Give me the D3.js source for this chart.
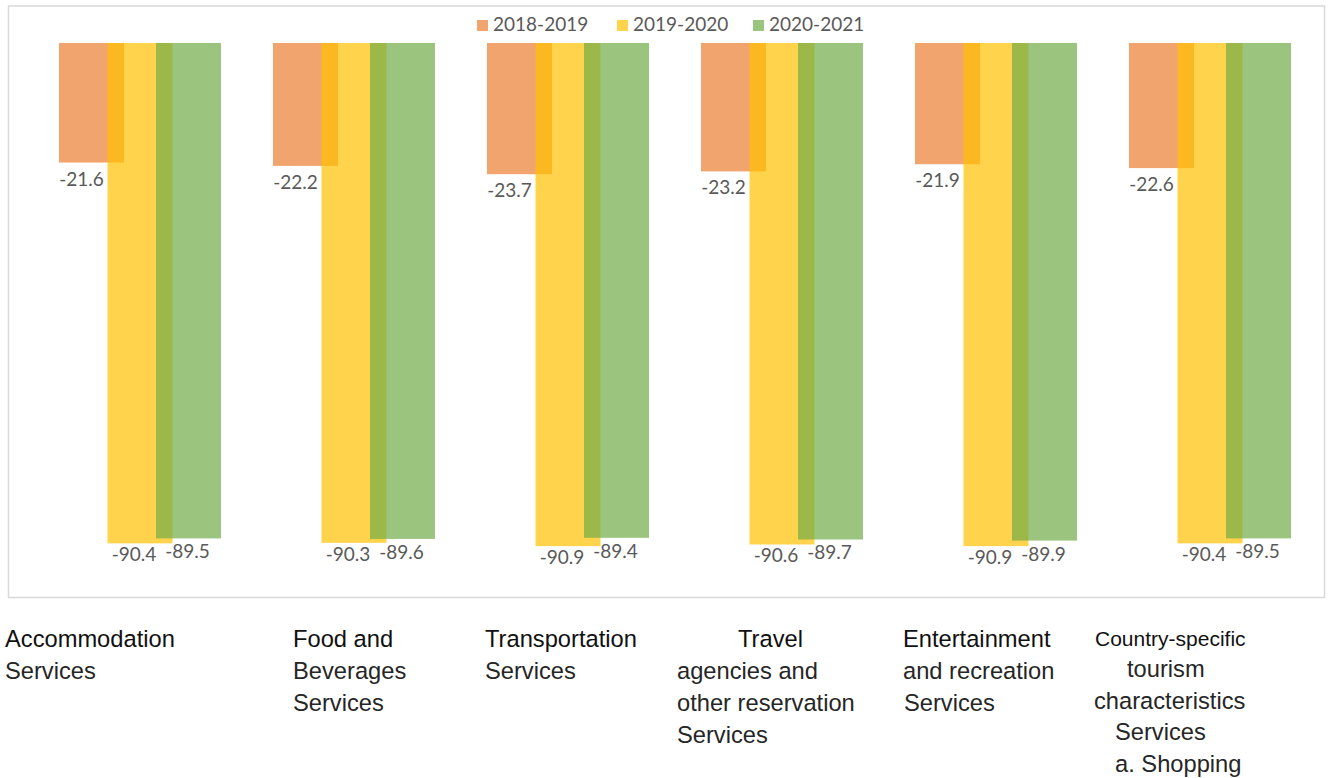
<!DOCTYPE html>
<html>
<head>
<meta charset="utf-8">
<script src="https://cdn.jsdelivr.net/npm/d3@7"></script>
<style>
  html, body { margin: 0; padding: 0; background: #fff; }
  svg { display: block; }
</style>
</head>
<body>
<svg id="chart" width="1328" height="778"></svg>
<script>
// ---- data ----
const categories = [
  "Accommodation Services",
  "Food and Beverages Services",
  "Transportation Services",
  "Travel agencies and other reservation Services",
  "Entertainment and recreation Services",
  "Country-specific tourism characteristics Services a. Shopping"
];
const categoryLines = [
  ["Accommodation", "Services"],
  ["Food and", "Beverages", "Services"],
  ["Transportation", "Services"],
  ["Travel", "agencies and", "other reservation", "Services"],
  ["Entertainment", "and recreation", "Services"],
  ["Country-specific", "tourism", "characteristics", "Services", "a. Shopping"]
];
const seriesNames = ["2018-2019", "2019-2020", "2020-2021"];
const values2018_2019 = [-21.6, -22.2, -23.7, -23.2, -21.9, -22.6];
const values2019_2020 = [-90.4, -90.3, -90.9, -90.6, -90.9, -90.4];
const values2020_2021 = [-89.5, -89.6, -89.4, -89.7, -89.9, -89.5];
const seriesValues = [values2018_2019, values2019_2020, values2020_2021];

// ---- style / layout (not data) ----
const colors = ["#ED7D31", "#FFC000", "#70AD47"];
const labelDx = [-10, -6, -1];
const labelDy = [23, 18, 20];
const lineX = [
  [5, 5],
  [293, 293, 293],
  [485, 485],
  [738, 677, 677, 677],
  [903, 903, 904],
  [1095, 1127, 1094, 1115, 1115]
];
const lineFont = [
  [23.7, 23.7], [23.7, 23.7, 23.7], [23.7, 23.7], [23.7, 23.7, 23.7, 23.7],
  [23.7, 23.7, 23.7], [21, 23.7, 23.7, 23.7, 23.7]
];
const lineTop = [647, 647, 647, 647, 647, 646];
const lineStep = [32, 32, 32, 32, 32, 31.4];

const svg = d3.select("#chart");

// chart border
svg.append("rect")
  .attr("x", 8.5).attr("y", 6).attr("width", 1316).attr("height", 591.5)
  .attr("fill", "none").attr("stroke", "#D9D9D9").attr("stroke-width", 1.5);

const x = d3.scaleBand().domain(categories).range([33, 1317]).paddingInner(0).paddingOuter(0);
const xs = d3.scalePoint().domain(seriesNames).range([-48.5, 48.5]);
const barW = 65;
const y = d3.scaleLinear().domain([0, -100]).range([43, 596.5]);

const rows = [];
seriesNames.forEach((s, si) => {
  categories.forEach((c, ci) => {
    rows.push({ s, si, c, ci, v: seriesValues[si][ci] });
  });
});

const fmt = v => d3.format(".1f")(v).replace("\u2212", "-");

// bars: draw series in order so overlaps blend
const gBars = svg.append("g");
seriesNames.forEach((s, si) => {
  gBars.append("g")
    .selectAll("rect")
    .data(rows.filter(r => r.si === si))
    .join("rect")
    .attr("x", d => x(d.c) + x.bandwidth() / 2 + xs(d.s) - barW / 2)
    .attr("y", d => y(0))
    .attr("width", barW)
    .attr("height", d => y(d.v) - y(0))
    .attr("fill", colors[si])
    .attr("fill-opacity", 0.7);
});

// data labels
svg.append("g")
  .selectAll("text")
  .data(rows)
  .join("text")
  .attr("x", d => x(d.c) + x.bandwidth() / 2 + xs(d.s) + labelDx[d.si])
  .attr("y", d => y(d.v) + labelDy[d.si])
  .attr("text-anchor", "middle")
  .attr("font-family", "Lato, 'Open Sans', sans-serif")
  .attr("font-size", 19)
  .attr("fill", "#595959")
  .text(d => fmt(d.v));

// legend
const legendX = [477, 617, 753];
const lg = svg.append("g");
seriesNames.forEach((s, i) => {
  lg.append("rect")
    .attr("x", legendX[i]).attr("y", 20).attr("width", 11).attr("height", 11)
    .attr("fill", colors[i]).attr("fill-opacity", 0.7);
  lg.append("text")
    .attr("x", legendX[i] + 16).attr("y", 31)
    .attr("font-family", "Lato, 'Open Sans', sans-serif")
    .attr("font-size", 19)
    .attr("fill", "#595959")
    .text(s);
});

// category labels (text boxes below the chart)
const cg = svg.append("g");
categoryLines.forEach((lines, ci) => {
  lines.forEach((ln, li) => {
    cg.append("text")
      .attr("x", lineX[ci][li])
      .attr("y", lineTop[ci] + li * lineStep[ci])
      .attr("font-family", "'Liberation Sans', Arial, sans-serif")
      .attr("font-size", lineFont[ci][li])
      .attr("fill", li === 0 ? "#111" : "#262626")
      .text(ln);
  });
});
</script>
</body>
</html>
